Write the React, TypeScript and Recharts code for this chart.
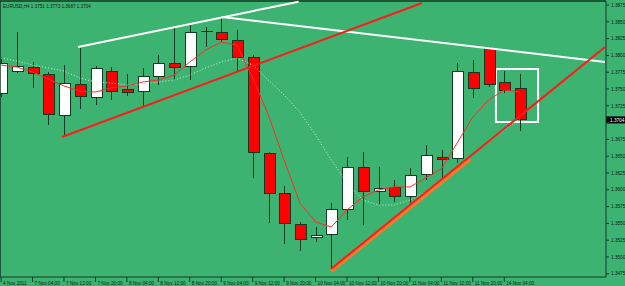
import React from 'react';
import { ComposedChart, Bar, Line, XAxis, YAxis, ReferenceLine, ReferenceArea } from 'recharts';

// H4 bar index (1 = 4 Nov 2011 20:00 ... 34 = 14 Nov 08:00)
const barIndex = [1, 2, 3, 4, 5, 6, 7, 8, 9, 10, 11, 12, 13, 14, 15, 16, 17, 18, 19, 20, 21, 22, 23, 24, 25, 26, 27, 28, 29, 30, 31, 32, 33, 34];
const opens = [1.3744, 1.37768, 1.37827, 1.37723, 1.37113, 1.3756, 1.37381, 1.37768, 1.375, 1.3747, 1.37679, 1.37887, 1.37842, 1.38348, 1.38348, 1.38229, 1.37976, 1.36533, 1.35952, 1.35476, 1.35283, 1.35342, 1.35714, 1.36339, 1.35982, 1.36027, 1.35893, 1.36235, 1.36488, 1.36473, 1.37753, 1.3811, 1.37604, 1.3751];
const highs = [1.37976, 1.38348, 1.37902, 1.37753, 1.37857, 1.3811, 1.37842, 1.37827, 1.37723, 1.37813, 1.38006, 1.38408, 1.38452, 1.38423, 1.38557, 1.38378, 1.38006, 1.36563, 1.36057, 1.35521, 1.35446, 1.35804, 1.36488, 1.36563, 1.36339, 1.36146, 1.36324, 1.36667, 1.36592, 1.37887, 1.37932, 1.38125, 1.37768, 1.3773];
const lows = [1.37381, 1.37738, 1.37515, 1.36964, 1.36816, 1.37202, 1.37262, 1.37336, 1.37396, 1.37247, 1.3756, 1.37634, 1.37634, 1.38125, 1.38199, 1.37753, 1.36176, 1.35506, 1.35193, 1.35089, 1.35223, 1.34807, 1.35551, 1.35476, 1.35774, 1.35819, 1.35804, 1.36146, 1.36146, 1.36399, 1.37366, 1.3753, 1.3744, 1.3687];
const closes = [1.37887, 1.37842, 1.37738, 1.37128, 1.37589, 1.37396, 1.37798, 1.3747, 1.37455, 1.37693, 1.37887, 1.37827, 1.38348, 1.3835, 1.38244, 1.37976, 1.36548, 1.35938, 1.35491, 1.35253, 1.35313, 1.35714, 1.36339, 1.35982, 1.36012, 1.35893, 1.3622, 1.36503, 1.36458, 1.37768, 1.37515, 1.37574, 1.37485, 1.3704];
const fastMA = [1.37857, 1.37827, 1.37753, 1.37649, 1.37545, 1.3747, 1.37455, 1.37515, 1.37545, 1.37604, 1.37634, 1.37708, 1.37902, 1.3808, 1.38199, 1.38155, 1.37664, 1.37113, 1.36443, 1.35804, 1.35521, 1.35446, 1.35699, 1.35893, 1.35997, 1.36042, 1.36042, 1.36176, 1.3631, 1.36696, 1.37083, 1.37336, 1.37485, 1.37455];
const slowMA = [1.37961, 1.37917, 1.37857, 1.37813, 1.37768, 1.37664, 1.37604, 1.37589, 1.3756, 1.37574, 1.37604, 1.37634, 1.37708, 1.37813, 1.37902, 1.37961, 1.37857, 1.37634, 1.37411, 1.37158, 1.36816, 1.36443, 1.36101, 1.35848, 1.35774, 1.35774, 1.35848, 1.35967, 1.36146, 1.36339, 1.36533, 1.36711, 1.3689, 1.37054];

const xTickIdx = [1, 3, 5, 7, 9, 11, 13, 15, 17, 19, 21, 23, 25, 27, 29, 31, 33];
const xTickLabels = ['4 Nov 2011', '7 Nov 04:00', '7 Nov 12:00', '7 Nov 20:00', '8 Nov 04:00', '8 Nov 12:00', '8 Nov 20:00', '9 Nov 04:00', '9 Nov 12:00', '9 Nov 20:00', '10 Nov 04:00', '10 Nov 12:00', '10 Nov 20:00', '11 Nov 04:00', '11 Nov 12:00', '11 Nov 20:00', '14 Nov 04:00'];
const yTicks = [1.3475, 1.35, 1.3525, 1.355, 1.3575, 1.36, 1.3625, 1.365, 1.3675, 1.37, 1.3725, 1.375, 1.3775, 1.38, 1.3825, 1.385, 1.3875];
const yHiddenTick = 1.37; // covered by the last-price box
const yDomain = [1.34702, 1.3881];
const xDomain = [0.93, 39.47];

const headerText = 'EURUSD,H4  1.3751 1.3773 1.3687 1.3704';
const lastPrice = 1.3704;

// trend lines (bar index, price)
const trendLines = [
  { x1: 5.89, y1: 1.38125, x2: 19.92, y2: 1.388, color: '#ffffff', width: 2 },
  { x1: 15.05, y1: 1.38571, x2: 39.41, y2: 1.37902, color: '#ffffff', width: 2 },
  { x1: 4.87, y1: 1.36786, x2: 27.77, y2: 1.3878, color: '#ff1a1a', width: 2 },
  { x1: 21.98, y1: 1.34792, x2: 30.82, y2: 1.36458, color: '#ff7a2a', width: 4 },
  { x1: 21.98, y1: 1.34821, x2: 39.41, y2: 1.38125, color: '#ff1a1a', width: 2 },
];
const boxX = [32.47, 35.15];
const boxY = [1.37009, 1.37798];

const data = barIndex.map((i, k) => ({
  i,
  o: opens[k],
  h: highs[k],
  l: lows[k],
  c: closes[k],
  range: [lows[k], highs[k]],
  fast: fastMA[k],
  slow: slowMA[k],
}));

const BG = '#3cb371';
const DARK = '#123a22';
const FONT = '"Liberation Sans", Arial, sans-serif';

const Candle = (props: any) => {
  const { x, y, width, height, payload } = props;
  if (!payload) return null;
  const { o, h, l, c } = payload;
  const top = Math.min(y, y + height);
  const span = Math.abs(height);
  const ratio = span / (h - l || 1);
  const cx = Math.round(x + width / 2) + 0.5;
  const yOf = (v: number) => top + (h - v) * ratio;
  const bTop = yOf(Math.max(o, c));
  const bBot = yOf(Math.min(o, c));
  const bull = c >= o;
  const bh = bBot - bTop;
  return (
    <g shapeRendering="crispEdges">
      <line x1={cx} x2={cx} y1={top} y2={top + span} stroke={DARK} strokeWidth={1} />
      {bh < 0.6 ? (
        <line x1={cx - 6} x2={cx + 6} y1={bTop} y2={bTop} stroke={DARK} strokeWidth={1} />
      ) : (
        <rect x={cx - 5.5} y={bTop} width={11} height={Math.max(bh, 1.5)} fill={bull ? '#ffffff' : '#ff0000'} stroke={DARK} strokeWidth={1} />
      )}
    </g>
  );
};

const XTick = (props: any) => {
  const { x, y, payload } = props;
  const k = xTickIdx.indexOf(payload.value);
  return (
    <text x={x + 2} y={y + 3} fontSize={4.7} fontFamily={FONT} fill="#10201a" textAnchor="start">
      {k >= 0 ? xTickLabels[k] : ''}
    </text>
  );
};

const YTick = (props: any) => {
  const { x, y, payload } = props;
  if (Math.abs(payload.value - yHiddenTick) < 1e-9) return <g />;
  return (
    <text x={x} y={y + 1.7} fontSize={4.7} fontFamily={FONT} fill="#10201a" textAnchor="start">
      {payload.value.toFixed(4)}
    </text>
  );
};

const PriceLabel = (props: any) => {
  const vb = props.viewBox || {};
  const px = (vb.x || 0) + (vb.width || 0);
  const py = vb.y || 0;
  return (
    <g>
      <rect x={px} y={py - 3.5} width={19} height={7} fill="#000000" />
      <text x={px + 4} y={py + 1.8} fontSize={4.7} fontFamily={FONT} fill="#ffffff">
        {lastPrice.toFixed(4)}
      </text>
    </g>
  );
};

export default function App() {
  return (
    <div style={{ position: 'absolute', left: 0, top: 0, width: 625, height: 286, background: BG }}>
      <ComposedChart width={625} height={286} data={data} margin={{ top: 1, right: 0, bottom: 0, left: 0 }}>
        <XAxis
          dataKey="i"
          type="number"
          domain={xDomain}
          allowDataOverflow
          ticks={xTickIdx}
          interval={0}
          height={9}
          tickSize={5}
          tickMargin={0}
          tick={<XTick />}
          axisLine={{ stroke: DARK }}
          tickLine={{ stroke: DARK }}
        />
        <YAxis
          orientation="right"
          type="number"
          domain={yDomain}
          allowDataOverflow
          ticks={yTicks}
          interval={0}
          width={19}
          tickSize={3}
          tickMargin={2}
          tick={<YTick />}
          axisLine={{ stroke: DARK }}
          tickLine={{ stroke: DARK }}
        />
        <ReferenceLine y={yDomain[1]} stroke={DARK} strokeWidth={1.5} />
        <ReferenceLine x={xDomain[0]} stroke={DARK} strokeWidth={1.5} />
        <Bar dataKey="range" barSize={12} shape={<Candle />} isAnimationActive={false} />
        <Line dataKey="slow" type="linear" stroke="#cfeed8" strokeWidth={1} strokeDasharray="1 2" dot={false} isAnimationActive={false} />
        <Line dataKey="fast" type="linear" stroke="#ff2b2b" strokeWidth={1} dot={false} isAnimationActive={false} />
        {trendLines.map((t, k) => (
          <ReferenceLine
            key={k}
            segment={[{ x: t.x1, y: t.y1 }, { x: t.x2, y: t.y2 }]}
            stroke={t.color}
            strokeWidth={t.width}
            ifOverflow="visible"
          />
        ))}
        <ReferenceArea x1={boxX[0]} x2={boxX[1]} y1={boxY[0]} y2={boxY[1]} fill="none" fillOpacity={0} stroke="#ffffff" strokeWidth={2} ifOverflow="visible" />
        <ReferenceLine y={lastPrice} stroke="none" label={<PriceLabel />} />
      </ComposedChart>
      <svg width={625} height={286} style={{ position: 'absolute', left: 0, top: 0, pointerEvents: 'none' }}>
        <text x={3} y={8} fontSize={4.6} fontFamily={FONT} fill="#10201a">{headerText}</text>
      </svg>
    </div>
  );
}
